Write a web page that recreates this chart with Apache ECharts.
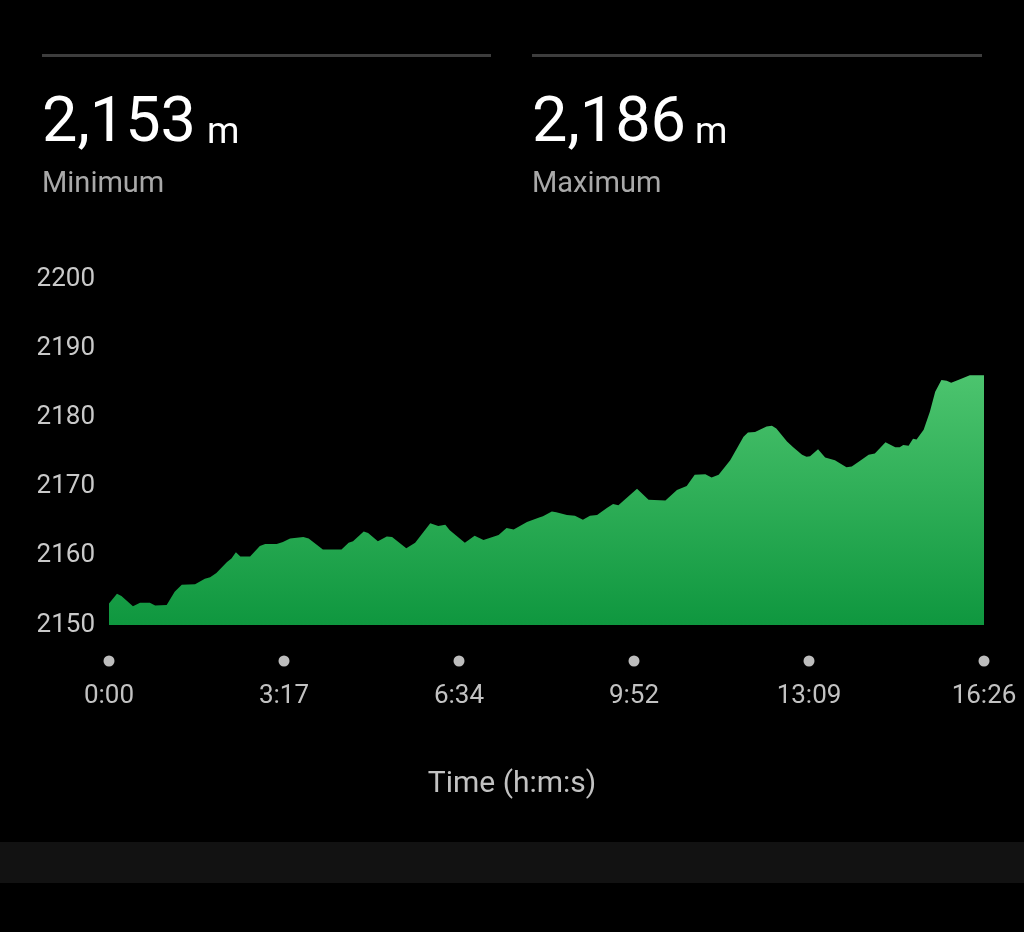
<!DOCTYPE html>
<html>
<head>
<meta charset="utf-8">
<script src="https://cdn.jsdelivr.net/npm/echarts@6/dist/echarts.min.js"></script>
<style>
  html, body { margin: 0; padding: 0; background: #000; }
  #chart { width: 1024px; height: 932px; }
</style>
</head>
<body>
<div id="chart"></div>
<script>
// ---- data ----
const timeMin = [0, 9, 14, 27, 35, 46, 52, 65, 74, 82, 97, 108, 114, 121, 133, 138, 143, 148, 159, 170, 176, 189, 196, 204, 219, 225, 241, 262, 270, 275, 287, 292, 303, 313, 319, 335, 345, 362, 371, 379, 384, 401, 412, 422, 439, 448, 456, 471, 484, 489, 499, 504, 516, 525, 534, 542, 550, 561, 568, 574, 595, 608, 627, 640, 651, 660, 672, 679, 687, 700, 715, 720, 728, 741, 747, 752, 764, 771, 781, 786, 790, 799, 807, 818, 831, 837, 846, 856, 863, 875, 886, 891, 895, 901, 906, 910, 918, 925, 931, 938, 944, 949, 959, 970, 986];
const elevation = [2153.1, 2154.5, 2154.2, 2152.7, 2153.2, 2153.2, 2152.8, 2152.9, 2154.8, 2155.8, 2155.9, 2156.7, 2156.9, 2157.5, 2159.1, 2159.6, 2160.5, 2159.9, 2159.9, 2161.4, 2161.7, 2161.7, 2162.0, 2162.5, 2162.7, 2162.5, 2160.9, 2160.9, 2161.9, 2162.1, 2163.5, 2163.3, 2162.1, 2162.8, 2162.7, 2161.1, 2161.9, 2164.7, 2164.3, 2164.5, 2163.7, 2161.9, 2162.9, 2162.3, 2163.0, 2164.0, 2163.8, 2164.9, 2165.5, 2165.7, 2166.4, 2166.3, 2165.9, 2165.8, 2165.2, 2165.8, 2165.9, 2166.9, 2167.5, 2167.3, 2169.7, 2168.1, 2168.0, 2169.5, 2170.1, 2171.7, 2171.8, 2171.3, 2171.7, 2173.8, 2177.2, 2177.8, 2177.9, 2178.7, 2178.8, 2178.4, 2176.5, 2175.7, 2174.6, 2174.3, 2174.4, 2175.4, 2174.2, 2173.8, 2172.8, 2172.9, 2173.7, 2174.6, 2174.8, 2176.4, 2175.7, 2175.7, 2176.0, 2175.9, 2176.9, 2176.8, 2178.2, 2180.8, 2183.7, 2185.4, 2185.3, 2185.0, 2185.5, 2186.1, 2186.1];
const xTickLabels = ['0:00', '3:17', '6:34', '9:52', '13:09', '16:26'];
const yTicks = [2150, 2160, 2170, 2180, 2190, 2200];
const statValues = ['2,153', '2,186'];
const statLabels = ['Minimum', 'Maximum'];
const chartTitle = 'Elevation';
const xAxisTitle = 'Time (h:m:s)';
const unit = 'm';

// ---- chart ----
const xMax = timeMin[timeMin.length - 1];
const xInterval = xMax / (xTickLabels.length - 1);
const FONT = 'Roboto, "Noto Sans", sans-serif';

const chart = echarts.init(document.getElementById('chart'), null, { renderer: 'canvas' });

const graphics = [
  { type: 'text', x: 42, y: -11, style: { text: chartTitle, fill: '#ffffff', font: '500 40px ' + FONT, verticalAlign: 'middle' } },
  { type: 'rect', shape: { x: 42, y: 54, width: 449, height: 3 }, style: { fill: '#3d3d3d' } },
  { type: 'rect', shape: { x: 532, y: 54, width: 450, height: 3 }, style: { fill: '#3d3d3d' } },
  { type: 'rect', shape: { x: 0, y: 842, width: 1024, height: 41 }, style: { fill: '#121212' } },
];
const statX = [42, 532];
const unitX = [207, 695];
statValues.forEach((v, i) => {
  graphics.push({ type: 'text', x: statX[i], y: 125, style: { text: v, fill: '#ffffff', font: '400 63px ' + FONT, verticalAlign: 'middle' } });
  graphics.push({ type: 'text', x: unitX[i], y: 134, style: { text: unit, fill: '#ffffff', font: '400 37px ' + FONT, verticalAlign: 'middle' } });
  graphics.push({ type: 'text', x: statX[i], y: 185, style: { text: statLabels[i], fill: '#a9a9a9', font: '400 29px ' + FONT, verticalAlign: 'middle' } });
});
graphics.push({ type: 'text', x: 512, y: 784, style: { text: xAxisTitle, fill: '#c2c2c2', font: '400 30px ' + FONT, align: 'center', verticalAlign: 'middle' } });

chart.setOption({
  backgroundColor: '#000000',
  animation: false,
  grid: { left: 109, right: 40, top: 279, bottom: 307, containLabel: false },
  xAxis: {
    type: 'value',
    min: 0,
    max: xMax,
    interval: xInterval,
    axisLine: { show: false },
    axisTick: { show: false },
    splitLine: { show: false },
    axisLabel: {
      margin: 24,
      showMinLabel: true,
      showMaxLabel: true,
      formatter: function (val) {
        const idx = Math.round(val / xInterval);
        return '{d| }\n{t|' + (xTickLabels[idx] || '') + '}';
      },
      rich: {
        d: { width: 11, height: 11, borderRadius: 5.5, backgroundColor: '#bdbdbd', lineHeight: 24 },
        t: { color: '#c2c2c2', fontSize: 26, fontFamily: FONT, lineHeight: 46 }
      }
    }
  },
  yAxis: {
    type: 'value',
    min: yTicks[0],
    max: yTicks[yTicks.length - 1],
    interval: yTicks[1] - yTicks[0],
    axisLine: { show: false },
    axisTick: { show: false },
    splitLine: { show: false },
    axisLabel: { color: '#c9c9c9', fontSize: 26, fontFamily: FONT, margin: 14, formatter: function (v) { return String(v); } }
  },
  series: [{
    type: 'line',
    data: timeMin.map((t, i) => [t, elevation[i]]),
    symbol: 'none',
    smooth: false,
    lineStyle: { width: 0 },
    areaStyle: {
      opacity: 1,
      color: new echarts.graphic.LinearGradient(0, 0, 0, 1, [
        { offset: 0, color: '#4cc46e' },
        { offset: 1, color: '#0f973f' }
      ])
    }
  }],
  graphic: graphics
});
</script>
</body>
</html>
